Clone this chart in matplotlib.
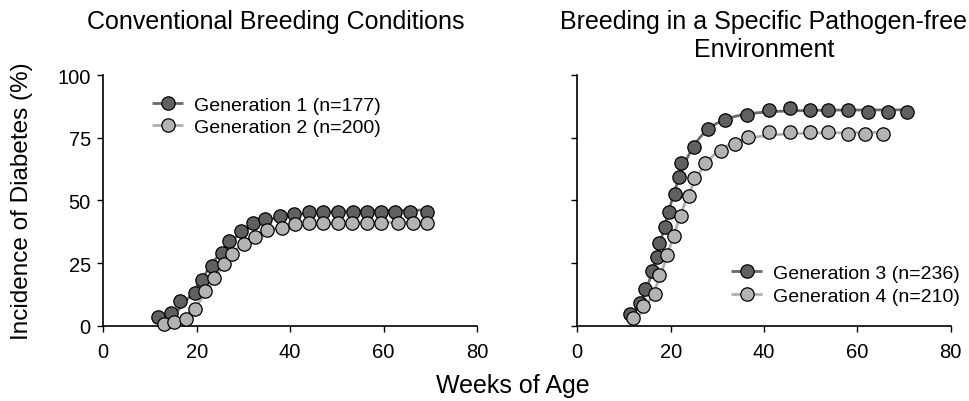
import numpy as np
import matplotlib
matplotlib.use("Agg")
import matplotlib.pyplot as plt
from matplotlib.legend_handler import HandlerTuple

plt.rcParams['font.family'] = ['Liberation Sans', 'DejaVu Sans']

# ---------------- data ----------------
gen1_weeks = [11.8, 14.4, 16.4, 19.7, 21.2, 23.3, 25.4, 26.9, 29.5, 32.1, 34.6,
              37.8, 40.9, 44.0, 47.1, 50.2, 53.4, 56.4, 59.5, 62.5, 65.7, 69.4]
gen1_inc = [3.4, 5.1, 9.7, 12.9, 18.4, 24.0, 29.1, 33.6, 37.7, 40.8, 42.7,
            43.7, 44.5, 45.5, 45.5, 45.5, 45.5, 45.5, 45.5, 45.5, 45.5, 45.5]

gen2_weeks = [13.0, 15.1, 17.7, 19.7, 21.7, 23.7, 25.9, 27.5, 30.1, 32.5, 35.1,
              38.3, 41.0, 44.0, 47.1, 50.2, 53.3, 56.4, 59.5, 63.0, 66.2, 69.4]
gen2_inc = [0.7, 1.5, 2.7, 6.7, 13.7, 19.0, 24.8, 28.7, 32.4, 35.3, 38.1,
            39.1, 40.7, 41.1, 41.1, 41.1, 41.1, 41.1, 41.1, 41.1, 41.1, 41.1]

gen3_weeks = [11.3, 13.5, 14.5, 16.0, 17.1, 17.6, 18.8, 19.7, 20.9, 21.8, 22.2,
              24.9, 28.0, 31.7, 36.4, 41.1, 45.6, 49.8, 53.8, 57.9, 62.3, 66.5, 70.6]
gen3_inc = [4.7, 9.1, 14.7, 21.7, 27.3, 33.1, 39.5, 45.3, 52.4, 59.3, 64.9,
            71.3, 78.4, 82.1, 84.0, 86.0, 87.0, 86.0, 86.0, 86.0, 85.1, 85.1, 85.1]

gen4_weeks = [11.9, 14.1, 16.7, 17.6, 19.3, 20.8, 22.2, 23.9, 24.9, 27.4,
              30.8, 33.7, 36.6, 41.1, 45.6, 49.8, 53.7, 57.9, 61.6, 65.4]
gen4_inc = [2.9, 8.0, 12.7, 20.3, 28.3, 35.8, 43.7, 51.6, 59.1, 64.9,
            69.6, 72.3, 75.2, 77.2, 77.2, 77.2, 77.2, 76.3, 76.3, 76.3]

labels_left = ["Generation 1 (n=177)", "Generation 2 (n=200)"]
labels_right = ["Generation 3 (n=236)", "Generation 4 (n=210)"]
title_left = "Conventional Breeding Conditions"
title_right = "Breeding in a Specific Pathogen-free\nEnvironment"
xlabel = "Weeks of Age"
ylabel = "Incidence of Diabetes (%)"
xticks = [0, 20, 40, 60, 80]
yticks = [0, 25, 50, 75, 100]

DARK_FILL = "#606060"
LIGHT_FILL = "#b3b3b3"
DARK_LINE = "#6a6a6a"
LIGHT_LINE = "#b0b0b0"


def hill_fit(w, v):
    """Least-squares Hill (log-logistic) fit of the data (grid search)."""
    w = np.asarray(w, float)
    v = np.asarray(v, float)
    cs = np.arange(10.0, 40.0, 0.1)
    ns = np.arange(1.0, 15.0, 0.05)
    C, N = np.meshgrid(cs, ns, indexing='ij')
    C = C[..., None]
    N = N[..., None]
    g = 1.0 / (1.0 + (C / w) ** N)
    gg = np.sum(g * g, axis=-1)
    gv = np.sum(g * v, axis=-1)
    A = gv / gg
    err = np.sum((A[..., None] * g - v) ** 2, axis=-1)
    i = np.unravel_index(np.argmin(err), err.shape)
    a, c, n = A[i], cs[i[0]], ns[i[1]]
    wc = np.linspace(w.min(), w.max(), 300)
    return wc, a / (1.0 + (c / wc) ** n)


W, H = 970, 402
fig = plt.figure(figsize=(W / 100, H / 100), dpi=100)

ax_bottom = (H - 326.7) / H
ax_height = (326.7 - 76) / H
axL = fig.add_axes([103.3 / W, ax_bottom, (477.0 - 103.3) / W, ax_height])
axR = fig.add_axes([577.3 / W, ax_bottom, (950.7 - 577.3) / W, ax_height])


def draw(ax, wa, va, wb, vb, show_ylabels):
    ca = hill_fit(wa, va)
    cb = hill_fit(wb, vb)
    la, = ax.plot(ca[0], ca[1], color=DARK_LINE, lw=2.0, zorder=1, solid_capstyle='butt')
    lb, = ax.plot(cb[0], cb[1], color=LIGHT_LINE, lw=2.0, zorder=1, solid_capstyle='butt')
    pa, = ax.plot(wa, va, ls='none', marker='o', ms=9.6, mfc=DARK_FILL,
                  mec='black', mew=0.9, zorder=3, clip_on=False)
    pb, = ax.plot(wb, vb, ls='none', marker='o', ms=9.6, mfc=LIGHT_FILL,
                  mec='black', mew=0.9, zorder=4, clip_on=False)
    ax.set_xlim(0, 80)
    ax.set_ylim(0, 100)
    ax.set_xticks(xticks)
    ax.set_yticks(yticks)
    if not show_ylabels:
        ax.set_yticklabels([])
    for sp in ('top', 'right'):
        ax.spines[sp].set_visible(False)
    for sp in ('left', 'bottom'):
        ax.spines[sp].set_linewidth(1.2)
    ax.tick_params(axis='both', direction='out', length=4.5, width=1.0,
                   labelsize=14.5, colors='black')
    ax.tick_params(axis='x', pad=7.5)
    ax.tick_params(axis='y', pad=4.5)
    ax.patch.set_visible(False)
    return (la, pa), (lb, pb)


hL = draw(axL, gen1_weeks, gen1_inc, gen2_weeks, gen2_inc, True)
hR = draw(axR, gen3_weeks, gen3_inc, gen4_weeks, gen4_inc, False)

leg_kw = dict(handler_map={tuple: HandlerTuple(ndivide=1, pad=0)},
              frameon=False, fontsize=14, handlelength=1.6, handletextpad=0.55,
              labelspacing=0.25, borderpad=0, borderaxespad=0, numpoints=1,
              loc='upper left')
axL.legend(list(hL), labels_left,
           bbox_to_anchor=(152.3 / W, (H - 97) / H), bbox_transform=fig.transFigure, **leg_kw)
axR.legend(list(hR), labels_right,
           bbox_to_anchor=(731.0 / W, (H - 265.5) / H), bbox_transform=fig.transFigure, **leg_kw)

fig.text(276 / W, (H - 22) / H, title_left, ha='center', va='center', fontsize=18)
fig.text(764 / W, (H - 36) / H, title_right, ha='center', va='center', fontsize=18,
         linespacing=1.2)
fig.text(512.5 / W, (H - 386) / H, xlabel, ha='center', va='center', fontsize=18)
fig.text(22 / W, (H - 201) / H, ylabel, ha='center', va='center', fontsize=17.5,
         rotation=90)

fig.savefig("out.png", dpi=100)
